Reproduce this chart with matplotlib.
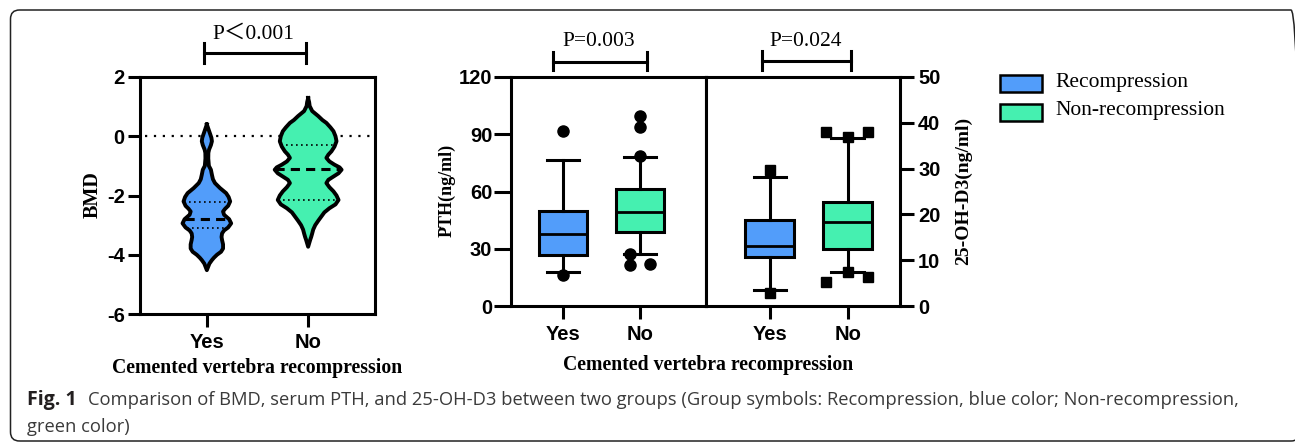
import numpy as np
import matplotlib
matplotlib.use('Agg')
import matplotlib.pyplot as plt
from matplotlib.patches import FancyBboxPatch, Rectangle
from matplotlib.transforms import IdentityTransform

plt.rcParams['axes.unicode_minus'] = False

# ---------------- data ----------------
groups = ['Yes', 'No']
legend_labels = ['Recompression', 'Non-recompression']

# BMD violin outline (value, half-width in x-axis units)
bmd_yes_y = [0.40, 0.25, 0.10, -0.05, -0.17, -0.30, -0.45, -0.56, -0.75, -1.00, -1.13, -1.30, -1.45,
             -1.58, -1.75, -1.92, -2.05, -2.20, -2.35, -2.45, -2.54, -2.65, -2.80, -2.94, -3.08,
             -3.18, -3.28, -3.40, -3.50, -3.65, -3.79, -3.90, -4.00, -4.10, -4.18, -4.30, -4.52]
bmd_yes_w = [0.0, 0.015, 0.03, 0.045, 0.05, 0.04, 0.022, 0.015, 0.014, 0.02, 0.04, 0.05, 0.06,
             0.08, 0.13, 0.19, 0.215, 0.23, 0.21, 0.18, 0.16, 0.17, 0.22, 0.24, 0.21,
             0.17, 0.15, 0.145, 0.15, 0.16, 0.16, 0.14, 0.10, 0.07, 0.05, 0.025, 0.0]
bmd_no_y = [1.29, 1.15, 1.02, 0.85, 0.68, 0.55, 0.45, 0.30, 0.17, 0.0, -0.17, -0.35, -0.51, -0.62,
            -0.73, -0.85, -0.96, -1.05, -1.13, -1.25, -1.36, -1.47, -1.58, -1.72, -1.86, -2.00,
            -2.15, -2.30, -2.43, -2.57, -2.71, -2.85, -3.00, -3.15, -3.28, -3.40, -3.50, -3.73]
bmd_no_w = [0.0, 0.01, 0.015, 0.04, 0.10, 0.14, 0.18, 0.22, 0.25, 0.27, 0.28, 0.26, 0.23, 0.20,
            0.18, 0.21, 0.26, 0.31, 0.33, 0.30, 0.25, 0.20, 0.18, 0.21, 0.25, 0.28,
            0.30, 0.27, 0.21, 0.16, 0.13, 0.10, 0.07, 0.05, 0.04, 0.03, 0.02, 0.0]
bmd_median = [-2.80, -1.10]
bmd_q1 = [-3.11, -2.15]
bmd_q3 = [-2.23, -0.31]

# PTH box plot
pth_med = [37.7, 49.0]
pth_q1 = [26.7, 39.0]
pth_q3 = [50.0, 61.5]
pth_lo = [18.0, 27.0]
pth_hi = [76.5, 78.3]
pth_out_yes = [91.5, 16.2]
pth_out_no = [99.5, 93.8, 78.5, 27.0, 21.5, 22.0]

# 25-OH-D3 box plot
d3_med = [13.2, 18.3]
d3_q1 = [10.6, 12.4]
d3_q3 = [18.8, 22.8]
d3_lo = [3.5, 7.4]
d3_hi = [28.1, 36.6]
d3_out_yes = [29.7, 2.9]
d3_out_no = [37.9, 36.8, 37.9, 5.2, 7.4, 6.3]

p_labels = ['P\uff1c0.001', 'P=0.003', 'P=0.024']

# layout-only: horizontal offsets of outlier markers
pth_no_off = [0, 0, 0, -0.13, -0.13, 0.13]
d3_no_off = [-0.28, 0, 0.26, -0.28, 0, 0.26]

# ---------------- style ----------------
W, H = 1295, 446
fig = plt.figure(figsize=(W / 100, H / 100), dpi=100)
colors = ['#529DFA', '#45F0B0']
LW = 2.2
TICKFONT = dict(family='Liberation Sans', weight='bold', size=14.5)
SERIF = ['Liberation Serif', 'Noto Sans CJK SC', 'DejaVu Serif']


def fx(px):
    return px / W


def fy(py):
    return 1 - py / H


def add_axes(l, r, t, b):
    return fig.add_axes([fx(l), fy(b), (r - l) / W, (b - t) / H])


def style_ax(ax):
    for s in ax.spines.values():
        s.set_linewidth(LW)
    ax.tick_params(direction='out', width=LW, length=7, pad=2)
    for lab in ax.get_xticklabels() + ax.get_yticklabels():
        lab.set_fontproperties(matplotlib.font_manager.FontProperties(**TICKFONT))


def ylabel(px, py, text, size):
    fig.text(fx(px), fy(py), text, family=SERIF, weight='bold', fontsize=size,
             rotation=90, ha='center', va='center')


# ---------------- violin ----------------
ax1 = add_axes(140, 375, 77, 314)
ax1.set_xlim(-0.66, 1.66)
ax1.set_ylim(-6, 2)
ax1.axhline(0, xmin=5 / 235, xmax=1, color='black', lw=1.6, ls=(0, (1, 3)), zorder=1)
for i, (yy, ww) in enumerate([(bmd_yes_y, bmd_yes_w), (bmd_no_y, bmd_no_w)]):
    yy = np.array(yy)
    ww = np.array(ww)
    ax1.fill_betweenx(yy, i - ww, i + ww, facecolor=colors[i], edgecolor='none', zorder=2)
    xs = np.concatenate([i - ww, (i + ww)[::-1]])
    ys = np.concatenate([yy, yy[::-1]])
    ax1.plot(xs, ys, color='black', lw=2.8, solid_joinstyle='round', zorder=3)
    order = np.argsort(yy)
    for v, ls, lw in [(bmd_median[i], (0, (3, 2)), 2.2), (bmd_q1[i], (0, (1, 2)), 1.2),
                      (bmd_q3[i], (0, (1, 2)), 1.2)]:
        hw = np.interp(v, yy[order], ww[order])
        ax1.plot([i - hw, i + hw], [v, v], color='black', lw=lw, ls=ls, zorder=4)
ax1.set_xticks([0, 1], groups)
ax1.set_yticks([-6, -4, -2, 0, 2])
style_ax(ax1)
ax1.tick_params(axis='x', length=9, pad=5)
ax1.tick_params(axis='y', length=9, pad=2)
ylabel(93, 195, 'BMD', 14.5)

# ---------------- PTH ----------------
def box_stats(med, q1, q3, lo, hi):
    return [dict(med=med[k], q1=q1[k], q3=q3[k], whislo=lo[k], whishi=hi[k], fliers=[])
            for k in range(2)]


def draw_box(ax, stats, width):
    bp = ax.bxp(stats, positions=[0, 1], widths=width, capwidths=0.42, patch_artist=True,
                showfliers=False,
                boxprops=dict(linewidth=LW, edgecolor='black'),
                medianprops=dict(color='black', linewidth=2.0),
                whiskerprops=dict(color='black', linewidth=LW),
                capprops=dict(color='black', linewidth=LW))
    for k, b in enumerate(bp['boxes']):
        b.set_facecolor(colors[k])


ax2 = add_axes(511, 706, 77, 306)
draw_box(ax2, box_stats(pth_med, pth_q1, pth_q3, pth_lo, pth_hi), 0.62)
ax2.plot([0] * len(pth_out_yes), pth_out_yes, 'o', color='black', ms=8, zorder=5)
ax2.plot(1 + np.array(pth_no_off), pth_out_no, 'o', color='black', ms=8, zorder=5)
ax2.set_xlim(-0.675, 1.857)
ax2.set_ylim(0, 120)
ax2.set_xticks([0, 1], groups)
ax2.set_yticks([0, 30, 60, 90, 120])
style_ax(ax2)
ax2.tick_params(axis='x', length=9, pad=5)
ax2.tick_params(axis='y', length=12, pad=1.5)
ylabel(447, 190, 'PTH(ng/ml)', 13)

# ---------------- 25-OH-D3 ----------------
ax3 = add_axes(706, 900, 77, 306)
draw_box(ax3, box_stats(d3_med, d3_q1, d3_q3, d3_lo, d3_hi), 0.63)
ax3.plot([0] * len(d3_out_yes), d3_out_yes, 's', color='black', ms=7.5, zorder=5)
ax3.plot(1 + np.array(d3_no_off), d3_out_no, 's', color='black', ms=7.5, zorder=5)
ax3.set_xlim(-0.82, 1.67)
ax3.set_ylim(0, 50)
ax3.set_xticks([0, 1], groups)
ax3.set_yticks([0, 10, 20, 30, 40, 50])
ax3.yaxis.tick_right()
style_ax(ax3)
ax3.tick_params(axis='x', length=9, pad=5)
ax3.tick_params(axis='y', length=10, pad=3)
ylabel(963, 191, '25-OH-D3(ng/ml)', 14)

# ---------------- x labels ----------------
fig.text(fx(257.5), fy(368), 'Cemented vertebra recompression', family=SERIF, weight='bold',
         fontsize=14.2, ha='center', va='center')
fig.text(fx(708), fy(365), 'Cemented vertebra recompression', family=SERIF, weight='bold',
         fontsize=14.2, ha='center', va='center')

# ---------------- significance brackets ----------------
brackets = [(204, 306, 53, 43, 63, 253, 34), (553, 647, 61.7, 52, 70, 599, 42),
            (762, 851, 60.7, 51, 70, 806, 42)]
for (x0, x1, yb, yt, ybot, tx, ty), lab in zip(brackets, p_labels):
    fig.add_artist(plt.Line2D([fx(x0), fx(x1)], [fy(yb), fy(yb)], color='black', lw=LW))
    for xv in (x0, x1):
        fig.add_artist(plt.Line2D([fx(xv), fx(xv)], [fy(yt), fy(ybot)], color='black', lw=LW))
    fig.text(fx(tx), fy(ty), lab, family=SERIF, fontsize=15.5, ha='center', va='center')

# ---------------- legend ----------------
for k, (lab, yc) in enumerate(zip(legend_labels, [83, 112])):
    fig.add_artist(Rectangle((fx(1000), fy(yc + 8.5)), 42 / W, 17 / H, transform=fig.transFigure,
                             facecolor=colors[k], edgecolor='black', lw=1.8))
    fig.text(fx(1055), fy(yc - 1), lab, family=SERIF, fontsize=15.5, ha='left', va='center')

# ---------------- caption ----------------
cap1 = ('Comparison of BMD, serum PTH, and 25-OH-D3 between two groups (Group symbols: '
        'Recompression, blue color; Non-recompression,')
cap2 = 'green color)'
tf = fig.text(fx(27), fy(405), 'Fig. 1', family='Open Sans', weight='bold', fontsize=12,
              color='#231f20', va='baseline')
t1 = fig.text(fx(88), fy(405), cap1, family='Open Sans', fontsize=12, color='#3a3a3a',
              va='baseline')
t2 = fig.text(fx(27), fy(432), cap2, family='Open Sans', fontsize=12, color='#3a3a3a',
              va='baseline')
fig.canvas.draw()
r = fig.canvas.get_renderer()
w1 = t1.get_window_extent(r).width
fs = 12 * (1232 - 88) / w1
t1.set_fontsize(fs)
t2.set_fontsize(fs)
wf = tf.get_window_extent(r).width
tf.set_fontsize(12 * 50 / wf)

# ---------------- border ----------------
border = FancyBboxPatch((10.5, 5), 1300 - 10.5, 436 - 5,
                        boxstyle='round,pad=0,rounding_size=9',
                        transform=IdentityTransform(), facecolor='none',
                        edgecolor='#222222', lw=1.1)
fig.add_artist(border)

fig.savefig('out.png', dpi=100)
